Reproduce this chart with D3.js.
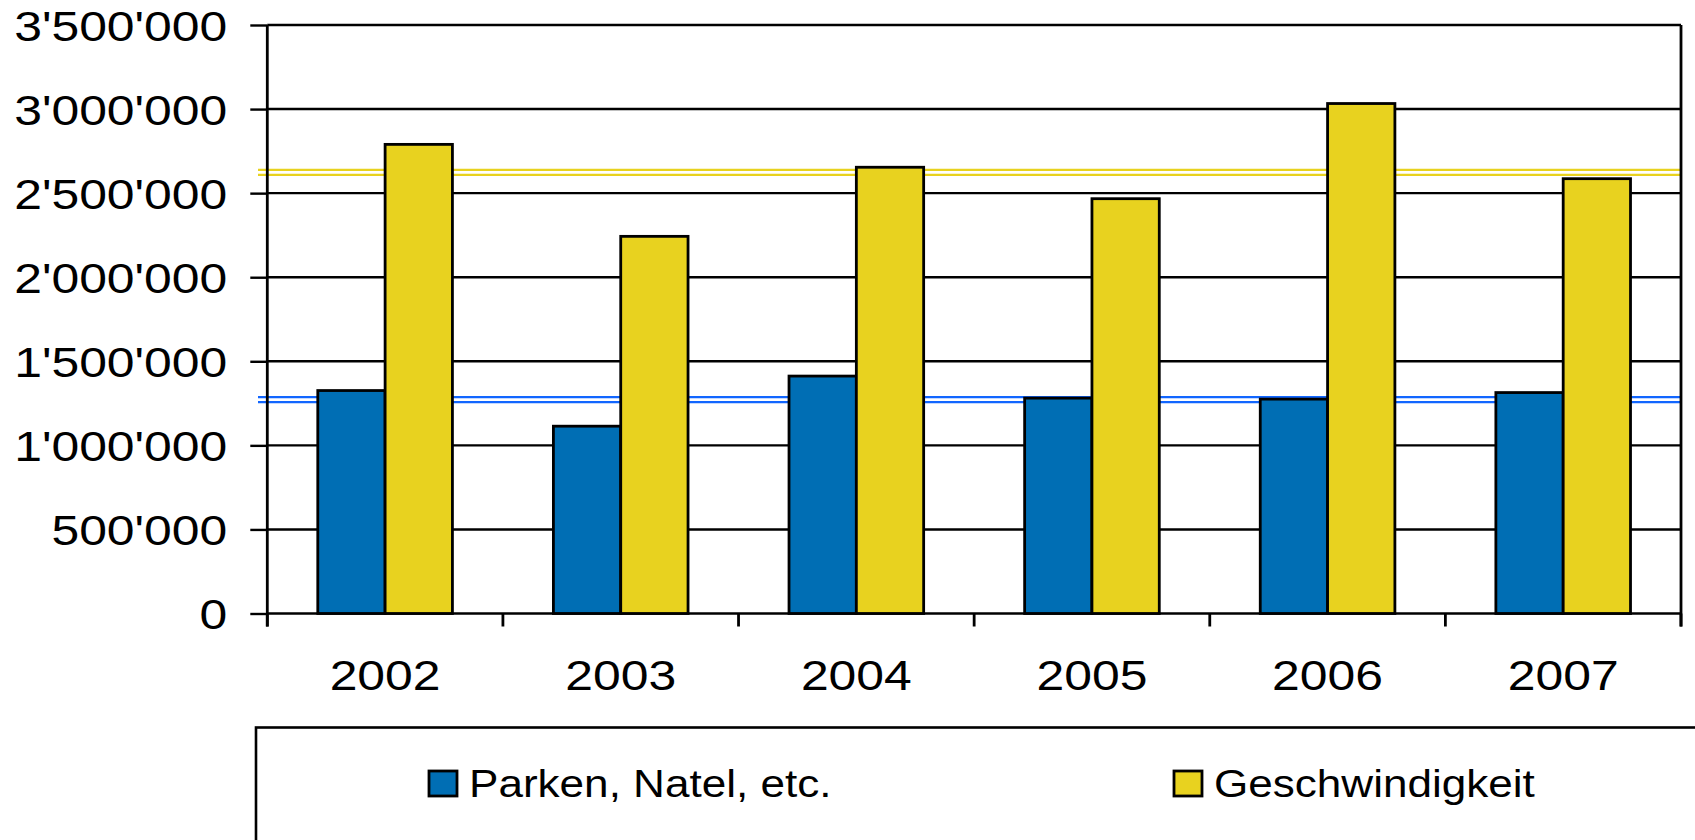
<!DOCTYPE html>
<html>
<head>
<meta charset="utf-8">
<script src="https://cdn.jsdelivr.net/npm/d3@7"></script>
<style>
    body { margin: 0; background: #fff; }
    svg { display: block; font-family: "Liberation Sans", Arial, sans-serif; }
</style>
</head>
<body>
<script>
// data
var years = ['2002', '2003', '2004', '2005', '2006', '2007'];
var seriesNames = ['Parken, Natel, etc.', 'Geschwindigkeit'];
var parken = [1326000, 1114000, 1412000, 1281000, 1275000, 1314000];
var geschw = [2790000, 2243000, 2654000, 2467000, 3033000, 2586000];
var avgLines = [1272000, 2623000];
var yTicks = [0, 500000, 1000000, 1500000, 2000000, 2500000, 3000000, 3500000];
var colors = ['#006eb4', '#e8d21f'];
var lineColors = ['#1166ff', '#e8d21f'];

var width = 1695;
var height = 840;
var plotLeft = 267.3, plotRight = 1681, plotTop = 25, plotBottom = 613.5;
var sx = 1.16; // text is drawn a bit wide in the original

var svg = d3.select('body')
    .append('svg')
    .attr('width', width)
    .attr('height', height);

var x = d3.scaleBand()
    .domain(years)
    .range([plotLeft, plotRight]);

var xs = d3.scaleBand()
    .domain([0, 1])
    .range([0, x.bandwidth()])
    .paddingOuter(0.75);

var y = d3.scaleLinear()
    .domain([0, 3500000])
    .range([plotBottom, plotTop]);

var fmt = d3.formatLocale({decimal: '.', thousands: "'", grouping: [3], currency: ['', '']}).format(',');

//grid
svg.append('g')
    .selectAll('line')
    .data(yTicks).enter()
    .append('line')
    .attr('x1', plotLeft)
    .attr('x2', plotRight)
    .attr('y1', d => y(d))
    .attr('y2', d => y(d))
    .attr('stroke', '#000')
    .attr('stroke-width', 2.4);

//average lines (double)
avgLines.forEach((v, i) => {
    [-2.5, 2.5].forEach(off => {
        svg.append('line')
            .attr('x1', 258)
            .attr('x2', plotRight - 1)
            .attr('y1', y(v) + off)
            .attr('y2', y(v) + off)
            .attr('stroke', lineColors[i])
            .attr('stroke-width', 2.2);
    });
});

//bars
var series = [parken, geschw];
series.forEach((vals, s) => {
    svg.append('g')
        .selectAll('rect')
        .data(vals).enter()
        .append('rect')
        .attr('x', (d, i) => x(years[i]) + xs(s))
        .attr('y', d => y(d))
        .attr('width', xs.bandwidth())
        .attr('height', d => y(0) - y(d))
        .attr('fill', colors[s])
        .attr('stroke', '#000')
        .attr('stroke-width', 2.8);
});

//axisy
var axisy = d3.axisLeft(y)
    .tickValues(yTicks)
    .tickSize(17)
    .tickSizeOuter(0)
    .tickFormat(fmt);
var gy = svg.append('g')
    .attr('transform', `translate(${plotLeft},0)`)
    .call(axisy);
gy.select('.domain').remove();
gy.selectAll('line').attr('stroke', '#000').attr('stroke-width', 2.4);
gy.selectAll('text')
    .attr('x', 0)
    .attr('dy', '0.35em')
    .attr('transform', `translate(-40,0) scale(${sx},1)`)
    .attr('font-size', 43)
    .attr('font-family', '"Liberation Sans", Arial, sans-serif')
    .attr('fill', '#000');

// axis lines
svg.append('line')
    .attr('x1', plotLeft).attr('x2', plotLeft)
    .attr('y1', plotTop).attr('y2', plotBottom + 13)
    .attr('stroke', '#000').attr('stroke-width', 2.8);
svg.append('line')
    .attr('x1', plotRight).attr('x2', plotRight)
    .attr('y1', plotTop).attr('y2', plotBottom + 13)
    .attr('stroke', '#000').attr('stroke-width', 2.8);

//axisx
var bounds = years.map(d => x(d)).concat([plotRight]);
svg.append('g')
    .selectAll('line')
    .data(bounds).enter()
    .append('line')
    .attr('x1', d => d).attr('x2', d => d)
    .attr('y1', plotBottom).attr('y2', plotBottom + 13)
    .attr('stroke', '#000').attr('stroke-width', 2.8);

var axisx = d3.axisBottom(x).tickSize(0);
var gx = svg.append('g')
    .attr('transform', `translate(0,${plotBottom})`)
    .call(axisx);
gx.select('.domain').remove();
gx.selectAll('text')
    .attr('y', 0)
    .attr('dy', 0)
    .attr('transform', `translate(0,76.5) scale(${sx},1)`)
    .attr('font-size', 43)
    .attr('font-family', '"Liberation Sans", Arial, sans-serif')
    .attr('fill', '#000');

//legend
svg.append('rect')
    .attr('x', 256)
    .attr('y', 727.5)
    .attr('width', 1600)
    .attr('height', 300)
    .attr('fill', 'none')
    .attr('stroke', '#000')
    .attr('stroke-width', 2.6);

var legendX = [429, 1174];
seriesNames.forEach((name, i) => {
    var g = svg.append('g').attr('transform', `translate(${legendX[i]},771)`);
    g.append('rect')
        .attr('x', 0).attr('y', 0)
        .attr('width', 28).attr('height', 25)
        .attr('fill', colors[i])
        .attr('stroke', '#000')
        .attr('stroke-width', 2.8);
    g.append('text')
        .attr('transform', `translate(40,26) scale(${sx},1)`)
        .attr('font-size', 38)
        .attr('fill', '#000')
        .text(name);
});
</script>
</body>
</html>
